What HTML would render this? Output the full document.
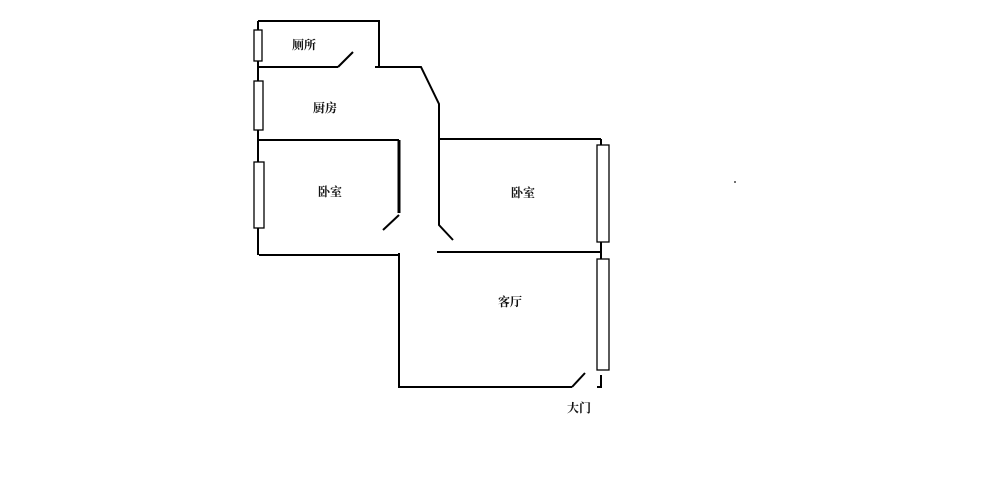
<!DOCTYPE html>
<html><head><meta charset="utf-8"><style>
html,body{margin:0;padding:0;background:#fff;}
svg text{font-family:"Liberation Serif","Noto Serif CJK SC",serif;font-size:12px;font-weight:bold;fill:#111;text-anchor:middle;}
</style></head><body>
<svg width="1000" height="476" viewBox="0 0 1000 476" xmlns="http://www.w3.org/2000/svg">
<g stroke="#000" stroke-width="2" fill="none">
<polyline points="258,21 379,21 379,66"/>
<line x1="258" y1="21" x2="258" y2="255"/>
<line x1="258" y1="67" x2="338" y2="67"/>
<line x1="338" y1="67" x2="353" y2="52"/>
<polyline points="375,67 421,67 439,104 439,225 453,240"/>
<line x1="259" y1="140" x2="399" y2="140"/>
<line x1="399" y1="140" x2="399" y2="213" stroke-width="3"/>
<line x1="383" y1="230" x2="399" y2="215"/>
<line x1="259" y1="255" x2="399" y2="255"/>
<polyline points="399,253 399,387 572,387"/>
<line x1="572" y1="387" x2="585" y2="373"/>
<line x1="439" y1="139" x2="601" y2="139"/>
<line x1="437" y1="252" x2="601" y2="252"/>
<line x1="601" y1="139" x2="601" y2="370"/>
<polyline points="601,375 601,387 597,387"/>
</g>
<g stroke="#000" stroke-width="1.3" fill="#fff">
<rect x="254" y="30" width="8" height="31"/>
<rect x="254" y="81" width="9" height="49"/>
<rect x="254" y="162" width="10" height="66"/>
<rect x="597" y="145" width="12" height="97"/>
<rect x="597" y="259" width="12" height="111"/>
</g>
<circle cx="735" cy="182" r="1" fill="#444"/>
<text x="304" y="49">厕所</text>
<text x="325" y="112">厨房</text>
<text x="330" y="196">卧室</text>
<text x="523" y="197">卧室</text>
<text x="510" y="306">客厅</text>
<text x="579" y="412">大门</text>
</svg>
</body></html>
